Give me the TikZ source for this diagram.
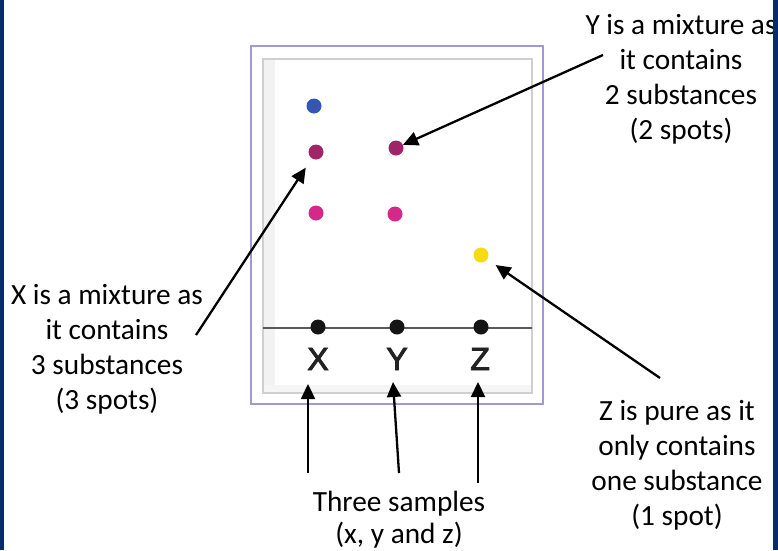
\documentclass[tikz,border=0pt]{standalone}
\usepackage{fontspec}
\setmainfont{Carlito}
\newfontfamily\letterfont[FakeBold=3]{Liberation Sans}
\usetikzlibrary{arrows.meta}
\definecolor{bandblue}{HTML}{0B2A6E}
\definecolor{plateframe}{HTML}{A099D2}
\definecolor{innerframe}{HTML}{CFCFCF}
\definecolor{spotblue}{HTML}{3656B4}
\definecolor{spotplum}{HTML}{A02468}
\definecolor{spotpink}{HTML}{D4298A}
\definecolor{spotyellow}{HTML}{F6DA12}
\definecolor{spotblack}{HTML}{151515}
\definecolor{lettergray}{HTML}{222222}
\begin{document}
\begin{tikzpicture}[x=1pt,y=-1pt,
  spot/.style={circle, inner sep=0pt, minimum size=15pt},
  lbl/.style={font=\fontsize{29.3}{35}\selectfont, align=center, inner sep=0pt, text=black},
  lane/.style={font=\letterfont\fontsize{32}{32}\selectfont, inner sep=0pt, text=lettergray, anchor=base},
  arr/.style={line width=2.3pt, -{Triangle[length=15pt,width=14pt]}}]
\useasboundingbox (0,0) rectangle (778,550);
\fill[white] (0,0) rectangle (778,550);
% plate
\draw[plateframe, line width=2pt] (251,46) rectangle (543,404);
\fill[gray!10] (264,60) rectangle (275,392);
\fill[gray!8] (264,385) rectangle (531,392);
\draw[innerframe, line width=1.5pt] (263,59) rectangle (532,393);
\draw[black!65, line width=1.3pt] (263,328) -- (532,328);
% spots
\node[spot, fill=spotblue] (xs1) at (314,106) {};
\node[spot, fill=spotplum] (xs2) at (316,152) {};
\node[spot, fill=spotpink] (xs3) at (316,213) {};
\node[spot, fill=spotplum] (ys1) at (396,148) {};
\node[spot, fill=spotpink] (ys2) at (395,214) {};
\node[spot, fill=spotyellow] (zs1) at (481,255) {};
\node[spot, fill=spotblack] (xo) at (318,327) {};
\node[spot, fill=spotblack] (yo) at (397,327) {};
\node[spot, fill=spotblack] (zo) at (481,327) {};
% lane letters
\node[lane] (xl) at (318,370) {X};
\node[lane] (yl) at (397,370) {Y};
\node[lane] (zl) at (480,370) {Z};
% texts
\node[lbl] (ytext) at (681,79) {Y is a mixture as\\it contains\\2 substances\\(2 spots)};
\node[lbl] (xtext) at (107,349) {X is a mixture as\\it contains\\3 substances\\(3 spots)};
\node[lbl] (ztext) at (677,465) {Z is pure as it\\only contains\\one substance\\(1 spot)};
\node[lbl, font=\fontsize{29.3}{32}\selectfont] (stext) at (399,520) {Three samples\\(x, y and z)};
% arrow ends
\coordinate (ytail) at (603,55);
\coordinate (xtail) at (196,335);
\coordinate (ztail) at (660,378);
\coordinate (sxtail) at (308,473);
\coordinate (sxtip) at (308,384);
\coordinate (sytail) at (399,473);
\coordinate (sytip) at (393,382);
\coordinate (sztail) at (478,483);
\coordinate (sztip) at (478,382);
% arrows
\draw[arr] (ytail) -- (ys1);
\draw[arr, shorten >=11pt] (xtail) -- (xs2);
\draw[arr, shorten >=10pt] (ztail) -- (zs1);
\draw[arr] (sxtail) -- (sxtip);
\draw[arr] (sytail) -- (sytip);
\draw[arr] (sztail) -- (sztip);
% side bands
\fill[bandblue] (0,0) rectangle (3.5,550);
\fill[bandblue] (773,0) rectangle (778,550);
\end{tikzpicture}
\end{document}
